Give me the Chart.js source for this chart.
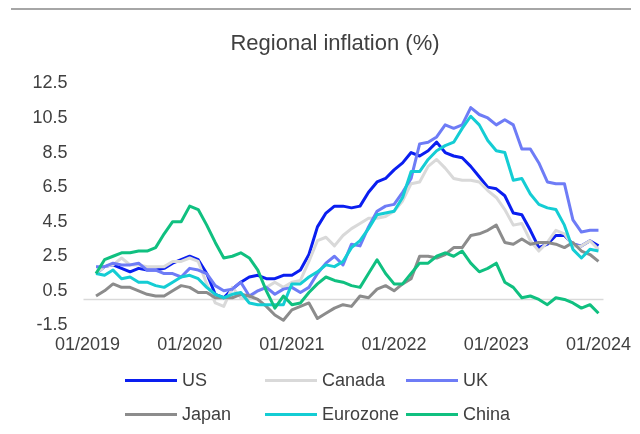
<!DOCTYPE html>
<html>
<head>
<meta charset="utf-8">
<script src="https://cdn.jsdelivr.net/npm/chart.js@4.4.1/dist/chart.umd.min.js"></script>
<style>
  html, body { margin: 0; padding: 0; background: #ffffff; }
  #wrap { position: relative; width: 640px; height: 434px; overflow: hidden; font-family: "Liberation Sans", Arial, sans-serif; }
  #topRule { position: absolute; left: 11px; top: 8px; width: 620px; height: 2px; background: #a6a6a6; }
  #chartBox { position: absolute; left: 0; top: 0; width: 640px; height: 434px; }
  .lg { position: absolute; display: flex; align-items: center; height: 20px; font-size: 18px; color: #404040; white-space: nowrap; line-height: 20px; }
  .lg .sw { display: inline-block; width: 52px; height: 3px; margin-right: 5px; }
</style>
</head>
<body>
<div id="wrap">
  <div id="topRule"></div>
  <div id="chartBox"><canvas id="c"></canvas></div>
  <div id="legend"></div>
</div>
<script>
// Axis categories: monthly, 01/2019 .. 01/2024
const categories = [
  '01/2019','02/2019','03/2019','04/2019','05/2019','06/2019','07/2019','08/2019','09/2019','10/2019','11/2019','12/2019',
  '01/2020','02/2020','03/2020','04/2020','05/2020','06/2020','07/2020','08/2020','09/2020','10/2020','11/2020','12/2020',
  '01/2021','02/2021','03/2021','04/2021','05/2021','06/2021','07/2021','08/2021','09/2021','10/2021','11/2021','12/2021',
  '01/2022','02/2022','03/2022','04/2022','05/2022','06/2022','07/2022','08/2022','09/2022','10/2022','11/2022','12/2022',
  '01/2023','02/2023','03/2023','04/2023','05/2023','06/2023','07/2023','08/2023','09/2023','10/2023','11/2023','12/2023',
  '01/2024'
];
// Series observations run 02/2019 .. 01/2024
const dataMonths = categories.slice(1);

const xTickLabels = ['01/2019','01/2020','01/2021','01/2022','01/2023','01/2024'];
const yTickValues = [-1.5, 0.5, 2.5, 4.5, 6.5, 8.5, 10.5, 12.5];

const seriesNames = ['US','Canada','UK','Japan','Eurozone','China'];

const us = [1.5,1.9,2.0,1.8,1.6,1.8,1.7,1.7,1.8,2.1,2.3,
  2.5,2.3,1.5,0.3,0.1,0.6,1.0,1.3,1.4,1.2,1.2,1.4,
  1.4,1.7,2.6,4.2,5.0,5.4,5.4,5.3,5.4,6.2,6.8,7.0,
  7.5,7.9,8.5,8.3,8.6,9.1,8.5,8.3,8.2,7.7,7.1,6.5,
  6.4,6.0,5.0,4.9,4.0,3.0,3.2,3.7,3.7,3.2,3.1,3.4,
  3.1];
const canada = [1.5,1.9,2.0,2.4,2.0,2.0,1.9,1.9,1.9,2.2,2.2,
  2.4,2.2,0.9,-0.2,-0.4,0.7,0.1,0.1,0.5,0.7,1.0,0.7,
  1.0,1.1,2.2,3.4,3.6,3.1,3.7,4.1,4.4,4.7,4.7,4.8,
  5.1,5.7,6.7,6.8,7.7,8.1,7.6,7.0,6.9,6.9,6.8,6.3,
  5.9,5.2,4.3,4.4,3.4,2.8,3.3,4.0,3.8,3.1,3.1,3.4,
  2.9];
const uk = [1.9,1.9,2.1,2.0,2.0,2.1,1.7,1.7,1.5,1.5,1.3,
  1.8,1.7,1.5,0.8,0.5,0.6,1.0,0.2,0.5,0.7,0.3,0.6,
  0.7,0.4,0.7,1.5,2.1,2.5,2.0,3.2,3.1,4.2,5.1,5.4,
  5.5,6.2,7.0,9.0,9.1,9.4,10.1,9.9,10.1,11.1,10.7,10.5,
  10.1,10.4,10.1,8.7,8.7,7.9,6.8,6.7,6.7,4.6,3.9,4.0,
  4.0];
const japan = [0.2,0.5,0.9,0.7,0.7,0.5,0.3,0.2,0.2,0.5,0.8,
  0.7,0.4,0.4,0.1,0.1,0.1,0.3,0.2,0.0,-0.4,-0.9,-1.2,
  -0.6,-0.4,-0.2,-1.1,-0.8,-0.5,-0.3,-0.4,0.2,0.1,0.6,0.8,
  0.5,0.9,1.2,2.5,2.5,2.4,2.6,3.0,3.0,3.7,3.8,4.0,
  4.3,3.3,3.2,3.5,3.2,3.3,3.3,3.2,3.0,3.3,2.8,2.6,
  2.2];
const eurozone = [1.5,1.4,1.7,1.2,1.3,1.0,1.0,0.8,0.7,1.0,1.3,
  1.4,1.2,0.7,0.3,0.1,0.3,0.4,-0.2,-0.3,-0.3,-0.3,-0.3,
  0.9,0.9,1.3,1.6,2.0,1.9,2.2,3.0,3.4,4.1,4.9,5.0,
  5.1,5.9,7.4,7.4,8.1,8.6,8.9,9.1,9.9,10.6,10.1,9.2,
  8.6,8.5,6.9,7.0,6.1,5.5,5.3,5.2,4.3,2.9,2.4,2.9,
  2.8];
const china = [1.5,2.3,2.5,2.7,2.7,2.8,2.8,3.0,3.8,4.5,4.5,
  5.4,5.2,4.3,3.3,2.4,2.5,2.7,2.4,1.7,0.5,-0.5,0.2,
  -0.3,-0.2,0.4,0.9,1.3,1.1,1.0,0.8,0.7,1.5,2.3,1.5,
  0.9,0.9,1.5,2.1,2.1,2.5,2.7,2.5,2.8,2.1,1.6,1.8,
  2.1,1.0,0.7,0.1,0.2,0.0,-0.3,0.1,0.0,-0.2,-0.5,-0.3,
  -0.8];

const seriesValues = [us, canada, uk, japan, eurozone, china];
const seriesColors = ['#0a1ef0','#d9d9d9','#6e7cf6','#8c8c8c','#14cdd4','#10c080'];

const FONT = '"Liberation Sans", Arial, sans-serif';
const TEXT = '#404040';

const datasets = seriesNames.map((name, i) => ({
  label: name,
  data: seriesValues[i].map((v, j) => ({ x: dataMonths[j], y: v })),
  borderColor: seriesColors[i],
  backgroundColor: seriesColors[i],
  borderWidth: 3,
  pointRadius: 0,
  pointHoverRadius: 0,
  tension: 0,
  fill: false,
  borderJoinStyle: 'round',
  order: seriesNames.length - i
}));

const zeroLine = {
  id: 'zeroLine',
  beforeDatasetsDraw(chart) {
    const { ctx, chartArea, scales } = chart;
    const y = scales.y.getPixelForValue(0);
    ctx.save();
    ctx.strokeStyle = '#d9d9d9';
    ctx.lineWidth = 1.5;
    ctx.beginPath();
    ctx.moveTo(chartArea.left - 4, y);
    ctx.lineTo(chartArea.right + 5, y);
    ctx.stroke();
    ctx.restore();
  }
};

new Chart(document.getElementById('c'), {
  type: 'line',
  data: { labels: categories, datasets },
  options: {
    responsive: true,
    maintainAspectRatio: false,
    animation: false,
    devicePixelRatio: 1,
    layout: { padding: { top: 0, left: 30, right: 0, bottom: 69 } },
    plugins: {
      legend: { display: false },
      tooltip: { enabled: false },
      title: {
        display: true,
        text: 'Regional inflation (%)',
        color: TEXT,
        font: { family: FONT, size: 22, weight: 'normal', lineHeight: 1.2 },
        padding: { top: 31, bottom: 26 }
      }
    },
    scales: {
      x: {
        type: 'category',
        offset: false,
        grid: { display: false, drawTicks: false },
        border: { display: false },
        ticks: {
          autoSkip: false,
          maxRotation: 0,
          minRotation: 0,
          padding: 9,
          color: TEXT,
          font: { family: FONT, size: 18 },
          callback(value) {
            const lab = this.getLabelForValue(value);
            return xTickLabels.includes(lab) ? lab : '';
          }
        }
      },
      y: {
        min: yTickValues[0],
        max: yTickValues[yTickValues.length - 1],
        grid: { display: false, drawTicks: false },
        border: { display: false },
        afterBuildTicks(scale) { scale.ticks = yTickValues.map(v => ({ value: v })); },
        afterFit(scale) { scale.width = 57.5; },
        ticks: {
          padding: 20,
          color: TEXT,
          font: { family: FONT, size: 18 },
          callback(v) { return Number(v).toFixed(1); }
        }
      }
    }
  },
  plugins: [zeroLine]
});

// Legend (three aligned columns, two rows)
const legendCols = [125, 265, 406];
const legendRows = [370, 404];
const legendEl = document.getElementById('legend');
seriesNames.forEach((name, i) => {
  const item = document.createElement('div');
  item.className = 'lg';
  item.style.left = legendCols[i % 3] + 'px';
  item.style.top = legendRows[Math.floor(i / 3)] + 'px';
  const sw = document.createElement('span');
  sw.className = 'sw';
  sw.style.background = seriesColors[i];
  item.appendChild(sw);
  item.appendChild(document.createTextNode(name));
  legendEl.appendChild(item);
});
</script>
</body>
</html>
